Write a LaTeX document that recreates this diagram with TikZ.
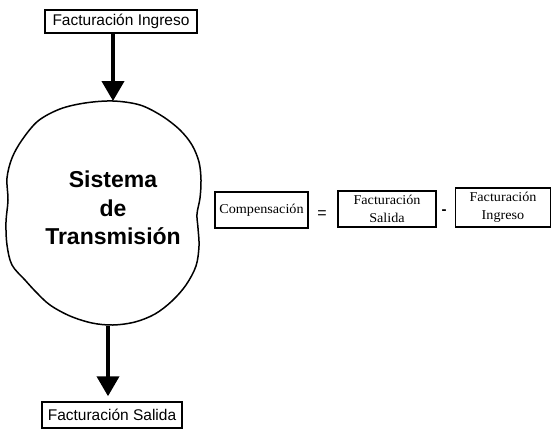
\documentclass[tikz,border=0pt]{standalone}
\usepackage{fontspec}
\setmainfont{Liberation Sans}
\newfontfamily\formulafont[FakeStretch=1.05]{Liberation Serif}
\usetikzlibrary{arrows.meta,calc}

\tikzset{
  labelbox/.style={draw=black, line width=1.5pt, inner sep=0pt,
    font=\fontsize{15.5}{17}\selectfont, text=black},
  termbox/.style={draw=black, line width=1.5pt, inner sep=0pt, align=center,
    font=\formulafont\fontsize{13.5}{18}\selectfont, text=black},
  flow/.style={line width=4pt, -{Triangle[width=22pt,length=20pt]}},
  blobline/.style={draw=black, line width=1.5pt},
  operator/.style={inner sep=0pt, font=\fontsize{16}{16}\selectfont}
}

\begin{document}
\begin{tikzpicture}[x=1pt,y=-1pt]
  \useasboundingbox (0,0) rectangle (552,429);

  % input and output labels
  \node[labelbox, minimum width=152pt, minimum height=23pt] (ingreso) at (121,21.5) {Facturación Ingreso};
  \node[labelbox, minimum width=140pt, minimum height=26pt] (salida) at (112,415) {Facturación Salida};

  % the transmission system as a hand-drawn closed outline
  \draw[blobline] plot[smooth cycle, tension=0.55] coordinates {
    (113,101) (85,103) (60,109) (38,121) (22,140) (12,158) (7,178) (8,200)
    (6,222) (7,245) (12,265) (25,280) (36,292) (50,305) (70,316) (92,323)
    (113,325) (135,322) (155,314) (172,301) (186,285) (196,266) (199,246)
    (198,228) (197,214) (200,198) (201,180) (199,162) (192,145) (180,130)
    (162,116) (140,105)};
  \node[align=center, font=\fontsize{23}{28.5}\selectfont\bfseries] (sistema) at (113,208)
    {Sistema\\de\\Transmisión};

  \coordinate (blobtop) at (113,101);
  \coordinate (blobbot) at (108,326);

  % flows in and out
  \draw[flow] (ingreso.south -| blobtop) -- (blobtop);
  \draw[flow, shorten >=5pt] (blobbot) -- (salida.north -| blobbot);

  % compensation formula
  \node[termbox, minimum width=93pt, minimum height=36pt] (comp) at (261.5,210) {Compensación};
  \node[operator] (eq) at (322,215) {=};
  \node[operator, font=\fontsize{15}{15}\selectfont\bfseries] (minus) at (444,212) {-};
  \node[termbox, minimum width=98pt, minimum height=36pt] (fsal) at (387,209) {Facturación\\Salida};
  \node[termbox, minimum width=95pt, minimum height=39pt] (fing) at (503,207.5) {Facturación\\Ingreso};
\end{tikzpicture}
\end{document}
